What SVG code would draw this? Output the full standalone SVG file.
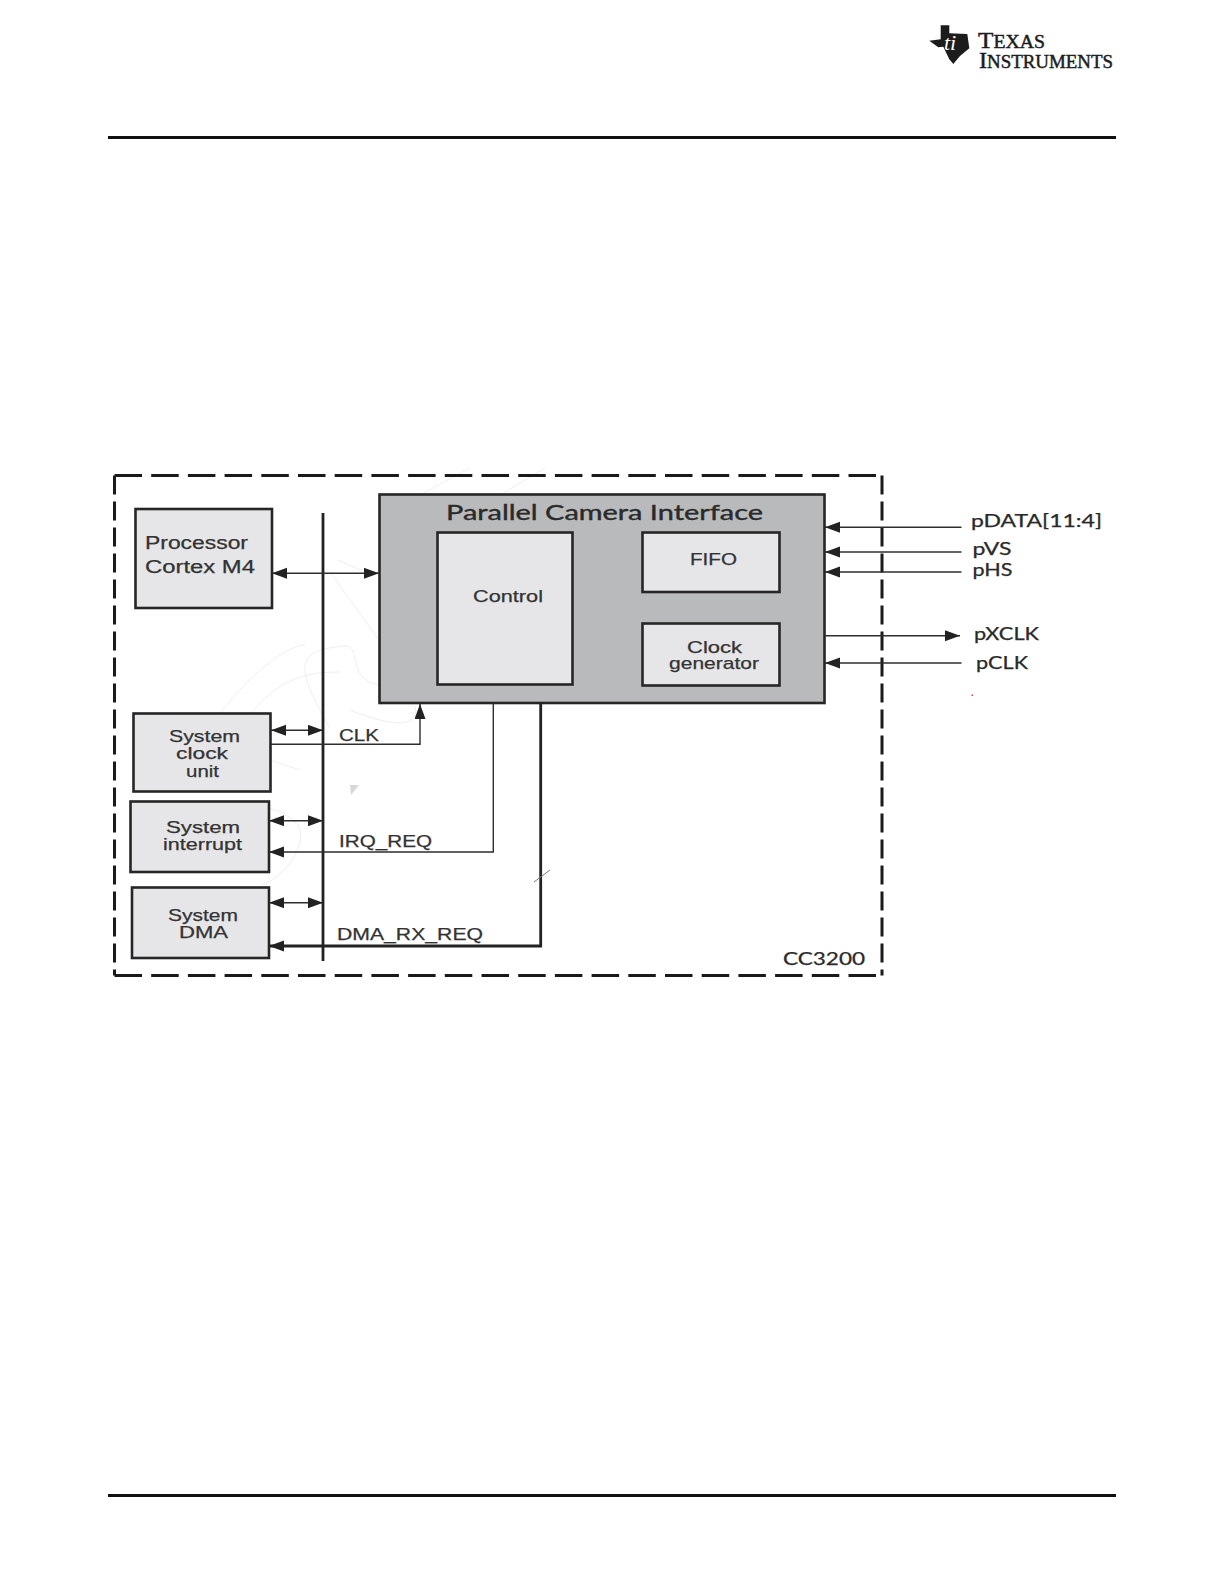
<svg xmlns="http://www.w3.org/2000/svg" width="1224" height="1584" viewBox="0 0 1224 1584">
<style>
.box{fill:#e6e6e8;stroke:#262626;stroke-width:2.6}
.frame{stroke:#1a1a1a;stroke-width:3;fill:none}
.wire{fill:none;stroke:#2e2e2e;stroke-width:1.4}
.bold{fill:none;stroke:#222;stroke-width:2.8}
.t{font-family:"Liberation Sans",Arial,sans-serif;font-size:17px;fill:#333;stroke:#333;stroke-width:.25}
.c{font-family:Lato,"Open Sans",sans-serif;font-size:17px;fill:#2a2a2a;stroke:#2a2a2a;stroke-width:.25}
.logo{font-family:"Liberation Serif",serif;font-size:18px;fill:#1c1c1c;stroke:#1c1c1c;stroke-width:.45}
.wm{fill:none;stroke:#efefef;stroke-width:1}
</style>
<defs>
<marker id="a" markerUnits="userSpaceOnUse" markerWidth="16" markerHeight="12" refX="15" refY="5.500" orient="auto-start-reverse"><path d="M0 0L15 5.500L0 11Z" fill="#222"/></marker>
</defs>
<rect width="1224" height="1584" fill="#fff"/>
<g id="page-rules">
<rect x="108" y="136" width="1008" height="3" fill="#111"/>
<rect x="108" y="1494" width="1008" height="3" fill="#111"/>
</g>
<g id="logo">
<path d="M940.700 25.300H949.300V33.300L967.300 34L969.300 48.300L960 56L953.300 64L949.300 59.300L943.300 46.700L938.300 47.300L929.300 40.700L940.700 39.300Z" fill="#1c1c1c"/>
<text x="950" y="50" font-family="Liberation Serif,serif" font-style="italic" font-size="22" fill="#fff" text-anchor="middle">ti</text>
<text class="logo" x="978" y="48" textLength="67" lengthAdjust="spacingAndGlyphs"><tspan font-size="23">T</tspan>EXAS</text>
<text class="logo" x="979" y="68" textLength="134" lengthAdjust="spacingAndGlyphs"><tspan font-size="23">I</tspan>NSTRUMENTS</text>
</g>
<g id="watermark">
<path class="wm" d="M330 728C290 660 300 650 345 646C362 645 346 680 380 685M212 725C250 670 290 645 305 645M232 740C270 680 300 672 340 672M330 572L379 640M338 560L372 575M420 495L470 468M500 495L545 468M350 710C400 730 420 725 415 706M270 760L300 770M130 820C200 790 290 800 300 830C305 850 280 880 262 885"/>
<path d="M350 785H359L351 795Z" fill="#d8d8d8"/>
</g>
<g id="cc3200-frame">
<path class="frame" d="M114.500 475.500H882" stroke-dasharray="27.500 9.200"/>
<path class="frame" d="M114.500 975.500H882" stroke-dasharray="27.500 9.200"/>
<path class="frame" d="M114.500 475.500V975.500" stroke-dasharray="19 7"/>
<path class="frame" d="M882 475.500V975.500" stroke-dasharray="19 7"/>
<text class="c" x="783" y="965" textLength="82" lengthAdjust="spacingAndGlyphs">CC3200</text>
</g>
<g id="parallel-camera-interface">
<rect x="379.500" y="494.500" width="445" height="208.500" fill="#b9babc" stroke="#262626" stroke-width="2.6"/>
<text class="c" x="446" y="520" textLength="317" lengthAdjust="spacingAndGlyphs" style="font-size:22px;stroke-width:.4">Parallel Camera Interface</text>
</g>
<g id="control">
<rect class="box" x="437.500" y="532.500" width="135" height="152"/>
<text class="t" x="473" y="602.300" textLength="70" lengthAdjust="spacingAndGlyphs">Control</text>
</g>
<g id="fifo">
<rect class="box" x="642.500" y="532.500" width="137" height="59.500"/>
<text class="t" x="690" y="565" textLength="47" lengthAdjust="spacingAndGlyphs">FIFO</text>
</g>
<g id="clock-generator">
<rect class="box" x="642.500" y="623.500" width="137" height="62"/>
<text class="t" x="687" y="652.700" textLength="55" lengthAdjust="spacingAndGlyphs">Clock</text>
<text class="t" x="669" y="669" textLength="90" lengthAdjust="spacingAndGlyphs">generator</text>
</g>
<g id="processor">
<rect class="box" x="135.500" y="509" width="136.500" height="99"/>
<text class="t" x="145" y="549.300" textLength="103" lengthAdjust="spacingAndGlyphs" style="font-size:18px">Processor</text>
<text class="t" x="145" y="572.700" textLength="110" lengthAdjust="spacingAndGlyphs" style="font-size:18px">Cortex M4</text>
</g>
<g id="system-clock-unit">
<rect class="box" x="133.500" y="713.500" width="137" height="78"/>
<text class="t" x="169" y="741.700" textLength="71" lengthAdjust="spacingAndGlyphs">System</text>
<text class="t" x="176" y="759" textLength="52" lengthAdjust="spacingAndGlyphs">clock</text>
<text class="t" x="186" y="776.700" textLength="33" lengthAdjust="spacingAndGlyphs">unit</text>
</g>
<g id="system-interrupt">
<rect class="box" x="130.500" y="801.500" width="138.500" height="70.500"/>
<text class="t" x="166" y="833" textLength="74" lengthAdjust="spacingAndGlyphs">System</text>
<text class="t" x="163" y="850" textLength="79" lengthAdjust="spacingAndGlyphs">interrupt</text>
</g>
<g id="system-dma">
<rect class="box" x="132" y="887.500" width="137" height="70.500"/>
<text class="t" x="168" y="920.700" textLength="70" lengthAdjust="spacingAndGlyphs">System</text>
<text class="t" x="179" y="938" textLength="49" lengthAdjust="spacingAndGlyphs">DMA</text>
</g>
<g id="connectors">
<path d="M323 513V961" fill="none" stroke="#222" stroke-width="2.800"/>
<path class="wire" d="M272 573.300H379" marker-start="url(#a)" marker-end="url(#a)"/>
<path class="wire" d="M271 730.300H323" marker-start="url(#a)" marker-end="url(#a)"/>
<path class="wire" d="M269 820.700H323" marker-start="url(#a)" marker-end="url(#a)"/>
<path class="wire" d="M269 902.700H323" marker-start="url(#a)" marker-end="url(#a)"/>
<path class="wire" d="M271 744.300H420V704" marker-end="url(#a)"/>
<path class="wire" d="M493.300 703V852H269" marker-end="url(#a)"/>
<path class="bold" d="M540.700 703V946H269" marker-end="url(#a)"/>
<path d="M534 882L550 870" fill="none" stroke="#777" stroke-width="1"/>
<path class="wire" d="M961.500 527.300H825" marker-end="url(#a)"/>
<path class="wire" d="M961.500 552H825" marker-end="url(#a)"/>
<path class="wire" d="M961.500 572H825" marker-end="url(#a)"/>
<path class="wire" d="M825 635.700H960" marker-end="url(#a)"/>
<path class="wire" d="M961.500 663H825" marker-end="url(#a)"/>
</g>
<g id="signal-labels">
<text class="t" x="339" y="740.700" textLength="40" lengthAdjust="spacingAndGlyphs">CLK</text>
<text class="t" x="339" y="846.700" textLength="93" lengthAdjust="spacingAndGlyphs">IRQ_REQ</text>
<text class="t" x="337" y="940" textLength="146" lengthAdjust="spacingAndGlyphs">DMA_RX_REQ</text>
<text class="c" x="971" y="527" textLength="131" lengthAdjust="spacingAndGlyphs">pDATA[11:4]</text>
<text class="c" x="972.500" y="555" textLength="39" lengthAdjust="spacingAndGlyphs">pVS</text>
<text class="c" x="972.500" y="575.700" textLength="40" lengthAdjust="spacingAndGlyphs">pHS</text>
<text class="c" x="974" y="639.700" textLength="65" lengthAdjust="spacingAndGlyphs">pXCLK</text>
<text class="c" x="976" y="669" textLength="52" lengthAdjust="spacingAndGlyphs">pCLK</text>
<rect x="971.500" y="694.500" width="1.500" height="1.500" fill="#d04040"/>
</g>
</svg>
